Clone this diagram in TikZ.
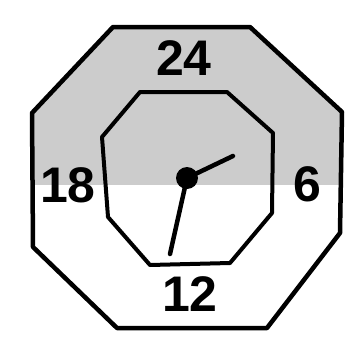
\documentclass[tikz,border=0pt]{standalone}
\usepackage{fontspec}
\setmainfont{Liberation Sans}
\usepackage{tikz}
\usetikzlibrary{calc}

\begin{document}
\begin{tikzpicture}[x=1pt, y=-1pt, line join=round]
\useasboundingbox (0,0) rectangle (357,338);
% outer and inner octagons
\def\outer{(113,27) -- (250,27) -- (342,112) -- (340,233) -- (267,328) -- (117,328) -- (33,247) -- (32,113) -- cycle}
\def\inner{(140,92) -- (227,92) -- (273,133) -- (272,213) -- (230,263) -- (150,265) -- (108,217) -- (102,137) -- cycle}
\begin{scope}
\clip \outer;
\fill[black!20] (0,0) rectangle (357,185);
\end{scope}
\draw[line width=4.5pt] \outer;
\draw[line width=4pt] \inner;
\node[font=\fontsize{50}{50}\selectfont\bfseries] (n24) at (184,58) {24};
\node[font=\fontsize{50}{50}\selectfont\bfseries] (n18) at (68,185) {18};
\node[font=\fontsize{50}{50}\selectfont\bfseries] (n6) at (307,184) {6};
\node[font=\fontsize{50}{50}\selectfont\bfseries] (n12) at (190,294) {12};
% hands
\coordinate (ctr) at (187,178);
\coordinate (hour) at (233,156);
\coordinate (minute) at (170,254);
\draw[line width=4.5pt, line cap=round] (ctr) -- (hour);
\draw[line width=4.5pt, line cap=round] (ctr) -- (minute);
\fill (ctr) circle (11);
\end{tikzpicture}
\end{document}
